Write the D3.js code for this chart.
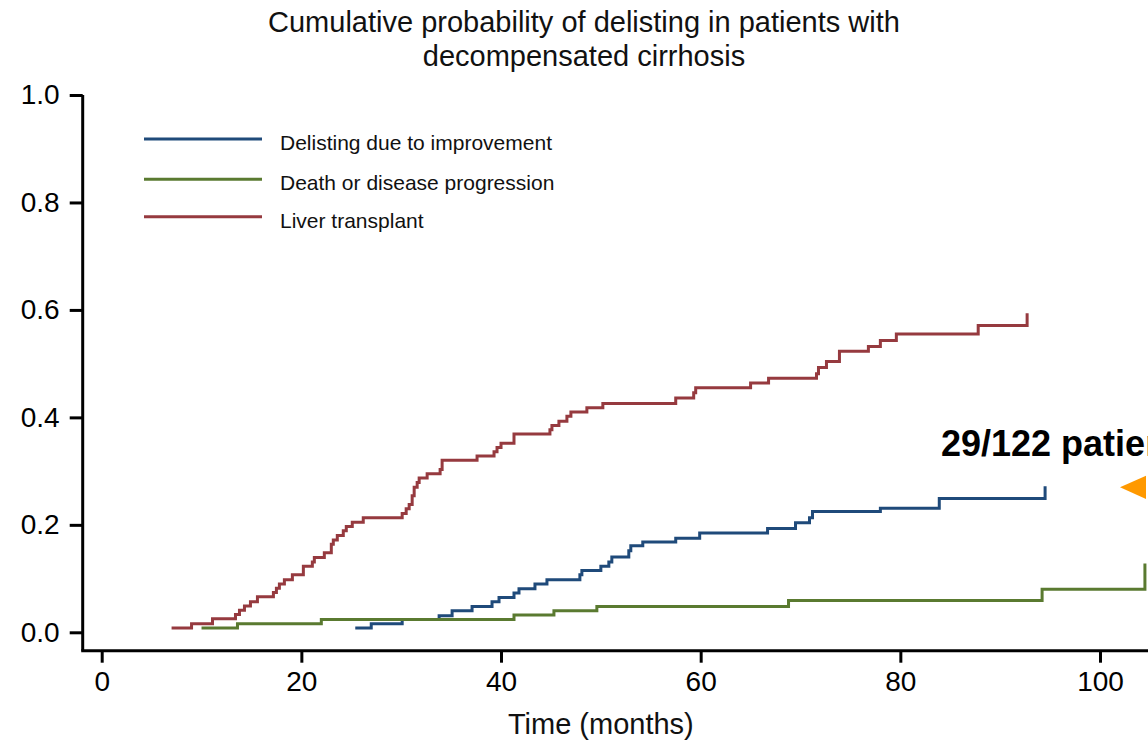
<!DOCTYPE html>
<html>
<head>
<meta charset="utf-8">
<script src="https://cdn.jsdelivr.net/npm/d3@7"></script>
<style>
  html, body { margin: 0; padding: 0; background: #fff; }
  svg { display: block; font-family: "Liberation Sans", Arial, sans-serif; }
  .axis path, .axis line { stroke: #000; stroke-width: 3; }
  .axis text { fill: #000; font-size: 28px; }
</style>
</head>
<body>
<svg id="chart" width="1148" height="741"></svg>
<script>

// step times (months) and cumulative probability after each step
var transplantTimes = [7.0, 9.0, 11.1, 13.4, 13.8, 14.3, 14.9, 15.6, 17.2, 17.5, 17.8, 18.3, 19.1, 20.2, 21.1, 21.3, 22.3, 23.0, 23.2, 23.6, 24.2, 24.5, 25.1, 26.2, 30.1, 30.5, 30.8, 31.1, 31.3, 31.6, 31.8, 32.6, 33.9, 34.1, 37.6, 39.3, 39.6, 40.0, 41.3, 44.9, 45.1, 45.8, 46.6, 47.0, 48.6, 50.2, 57.5, 59.3, 59.5, 65.0, 66.8, 71.6, 71.8, 72.6, 73.9, 76.8, 78.0, 79.6, 87.8, 92.7];
var transplantValues = [0.008, 0.016, 0.025, 0.033, 0.041, 0.049, 0.057, 0.066, 0.074, 0.082, 0.090, 0.098, 0.107, 0.123, 0.131, 0.139, 0.148, 0.164, 0.172, 0.180, 0.189, 0.197, 0.205, 0.213, 0.221, 0.230, 0.238, 0.254, 0.270, 0.279, 0.287, 0.295, 0.303, 0.320, 0.328, 0.336, 0.344, 0.352, 0.369, 0.377, 0.385, 0.393, 0.402, 0.410, 0.418, 0.426, 0.436, 0.446, 0.455, 0.464, 0.473, 0.481, 0.493, 0.504, 0.523, 0.532, 0.543, 0.555, 0.571, 0.594];

var improvementTimes = [25.4, 27.0, 30.1, 33.8, 35.1, 37.1, 39.1, 39.8, 41.3, 41.8, 43.4, 44.6, 47.9, 48.1, 50.0, 50.8, 51.1, 52.8, 53.0, 54.2, 57.5, 59.9, 66.7, 69.5, 70.9, 71.2, 78.0, 83.9, 94.5];
var improvementValues = [0.008, 0.016, 0.024, 0.031, 0.040, 0.048, 0.057, 0.065, 0.073, 0.081, 0.090, 0.098, 0.107, 0.115, 0.123, 0.131, 0.140, 0.152, 0.161, 0.168, 0.175, 0.185, 0.193, 0.204, 0.213, 0.225, 0.231, 0.249, 0.272];

var deathTimes = [10.0, 13.6, 22.0, 41.3, 45.3, 49.6, 68.8, 94.2, 104.5];
var deathValues = [0.008, 0.016, 0.024, 0.032, 0.040, 0.048, 0.059, 0.080, 0.128];

var seriesNames = ["Delisting due to improvement", "Death or disease progression", "Liver transplant"];
var seriesColors = ["#1f4a7a", "#5a7a30", "#963a3f"];

var xTicks = [0, 20, 40, 60, 80, 100];
var yTicks = [0, 0.2, 0.4, 0.6, 0.8, 1.0];

var titleLines = ["Cumulative probability of delisting in patients with", "decompensated cirrhosis"];
var xTitle = "Time (months)";
var noteText = "29/122 patients";

var svg = d3.select("#chart");

var x = d3.scaleLinear().domain([0, 100]).range([101.7, 1100]);
var y = d3.scaleLinear().domain([0, 1]).range([632.3, 95]);

var axisX = 82.7, axisY = 650.7;

// y axis
var yAxis = svg.append("g")
  .attr("class", "axis")
  .attr("transform", "translate(" + axisX + ",0)")
  .call(d3.axisLeft(y).tickValues(yTicks).tickFormat(d3.format(".1f")).tickSize(13).tickPadding(10).tickSizeOuter(0));
yAxis.select(".domain").attr("d", "M0," + y(1) + "V" + axisY);

// x axis
var xAxis = svg.append("g")
  .attr("class", "axis")
  .attr("transform", "translate(0," + axisY + ")")
  .call(d3.axisBottom(x).tickValues(xTicks).tickSize(12).tickPadding(8).tickSizeOuter(0));
xAxis.select(".domain").attr("d", "M" + (axisX - 1.5) + ",0H1160");

// curves
var line = d3.line()
  .x(function(d){ return x(d[0]); })
  .y(function(d){ return y(d[1]); })
  .curve(d3.curveStepAfter);

var curves = [
  d3.zip(improvementTimes, improvementValues),
  d3.zip(deathTimes, deathValues),
  d3.zip(transplantTimes, transplantValues)
];

svg.append("g").selectAll("path")
  .data(curves)
  .enter().append("path")
  .attr("d", line)
  .attr("fill", "none")
  .attr("stroke", function(d, i){ return seriesColors[i]; })
  .attr("stroke-width", 3)
  .attr("stroke-linejoin", "miter");

// legend
var legendY = [139, 179.3, 216.7];
var legend = svg.append("g").selectAll("g")
  .data(seriesNames)
  .enter().append("g")
  .attr("transform", function(d, i){ return "translate(0," + legendY[i] + ")"; });

legend.append("line")
  .attr("x1", 144).attr("x2", 262)
  .attr("stroke", function(d, i){ return seriesColors[i]; })
  .attr("stroke-width", 3);

legend.append("text")
  .attr("x", 280)
  .attr("y", 11)
  .attr("font-size", "21px")
  .attr("fill", "#111")
  .text(function(d){ return d; });

// title
svg.append("g").selectAll("text")
  .data(titleLines)
  .enter().append("text")
  .attr("x", 584)
  .attr("y", function(d, i){ return 32 + i * 34; })
  .attr("text-anchor", "middle")
  .attr("font-size", "29px")
  .attr("fill", "#111")
  .text(function(d){ return d; });

svg.append("text")
  .attr("x", (x(0) + x(100)) / 2)
  .attr("y", 734)
  .attr("text-anchor", "middle")
  .attr("font-size", "29px")
  .attr("fill", "#111")
  .text(xTitle);

// annotation
svg.append("text")
  .attr("x", 941)
  .attr("y", 456)
  .attr("font-size", "36px")
  .attr("font-weight", "bold")
  .attr("fill", "#000")
  .text(noteText);

svg.append("path")
  .attr("d", "M1120,487.3L1146,475.7L1146,499Z")
  .attr("fill", "#ff9900");

</script>
</body>
</html>
